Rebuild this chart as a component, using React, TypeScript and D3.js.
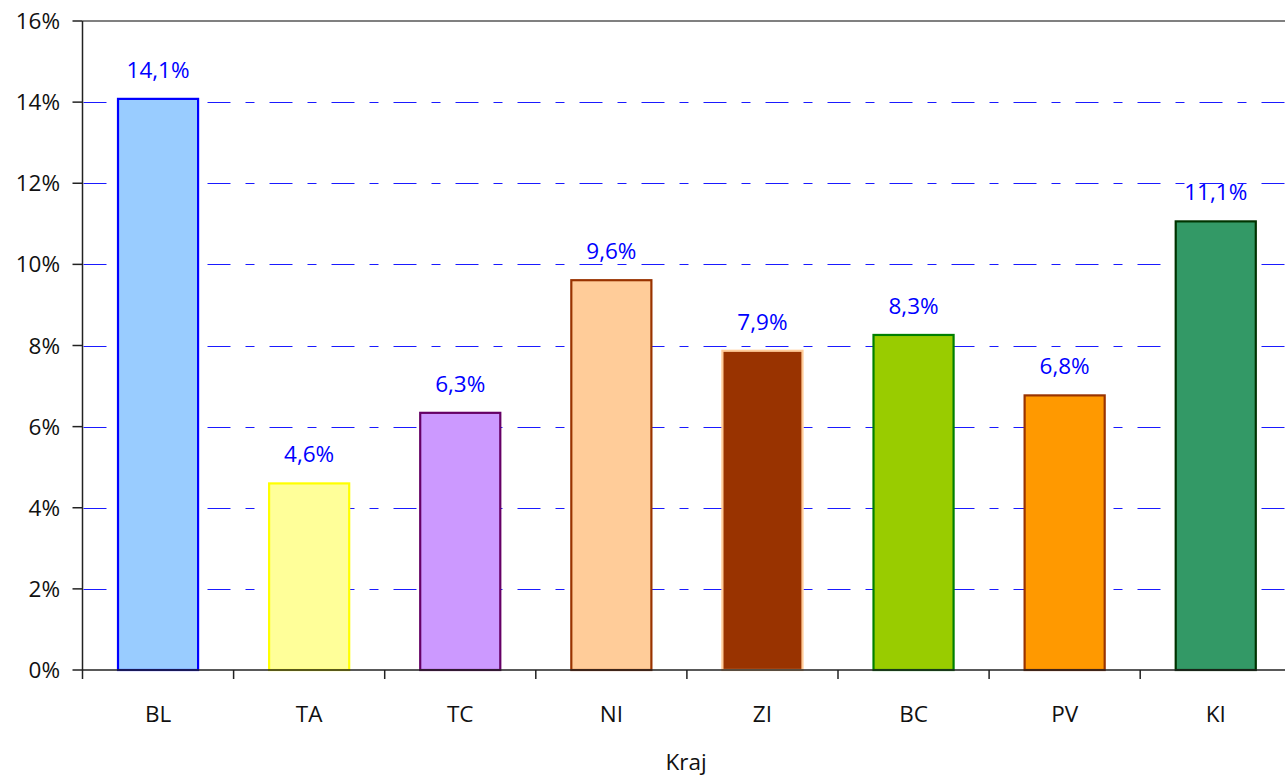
import React, { useRef, useEffect } from 'react';
import * as d3 from 'd3';

// chart data
const categories = ['BL', 'TA', 'TC', 'NI', 'ZI', 'BC', 'PV', 'KI'];
const values = [14.08, 4.6, 6.34, 9.61, 7.87, 8.26, 6.77, 11.06];
const fills = ['#99ccff', '#ffff99', '#cc99ff', '#ffcc99', '#993300', '#99cc00', '#ff9900', '#339966'];
const strokes = ['#0000ff', '#ffff00', '#660066', '#993300', '#ffcc99', '#008000', '#993300', '#003300'];
const yTicks = [0, 2, 4, 6, 8, 10, 12, 14, 16];
const xTitle = 'Kraj';

const FONT = '"Open Sans", "DejaVu Sans", sans-serif';

const App = () => {
    const svgRef = useRef<SVGSVGElement>(null);

    useEffect(() => {
        if (!svgRef.current) return;
        const width = 1285;
        const height = 776;
        const left = 82.5;
        const top = 21;
        const bottom = 670;
        const step = 151.1;
        const right = left + step * categories.length;

        const svg = d3.select(svgRef.current);
        svg.selectAll('*').remove();
        svg.attr('width', width).attr('height', height);

        const x = d3.scaleBand<string>()
            .domain(categories)
            .range([left, right])
            .paddingInner(0.47)
            .paddingOuter(0.235);

        const y = d3.scaleLinear().domain([0, 16]).range([bottom, top]);

        // gridlines
        svg.append('g')
            .selectAll('line')
            .data(yTicks.filter(d => d > 0 && d < 16))
            .enter()
            .append('line')
            .attr('x1', left + 1)
            .attr('x2', right)
            .attr('y1', d => Math.round(y(d)) + 0.5)
            .attr('y2', d => Math.round(y(d)) + 0.5)
            .attr('stroke', '#1a1aff')
            .attr('stroke-width', 1)
            .attr('stroke-dasharray', '23,15,9,15');

        // top border
        svg.append('line')
            .attr('x1', left)
            .attr('x2', width)
            .attr('y1', y(16))
            .attr('y2', y(16))
            .attr('stroke', '#808080')
            .attr('stroke-width', 2);

        // bars
        const bars = svg.append('g')
            .selectAll('g')
            .data(categories.map((c, i) => ({ c, v: values[i], fill: fills[i], stroke: strokes[i] })))
            .enter()
            .append('g');

        bars.append('rect')
            .attr('x', d => x(d.c)!)
            .attr('y', d => y(d.v))
            .attr('width', x.bandwidth())
            .attr('height', d => bottom - y(d.v))
            .attr('fill', d => d.fill)
            .attr('stroke', d => d.stroke)
            .attr('stroke-width', 2.2);

        bars.append('text')
            .attr('x', d => x(d.c)! + x.bandwidth() / 2)
            .attr('y', d => y(d.v) - 21)
            .attr('text-anchor', 'middle')
            .style('font-family', FONT)
            .style('font-size', '22.5px')
            .style('fill', '#0000ff')
            .text(d => d.v.toFixed(1).replace('.', ',') + '%');

        // y axis
        const yAxis = svg.append('g');
        yAxis.append('line')
            .attr('x1', left).attr('x2', left)
            .attr('y1', top).attr('y2', bottom)
            .attr('stroke', '#222').attr('stroke-width', 1.5);
        yAxis.selectAll('line.tick')
            .data(yTicks)
            .enter()
            .append('line')
            .attr('class', 'tick')
            .attr('x1', left - 10).attr('x2', left)
            .attr('y1', d => y(d)).attr('y2', d => y(d))
            .attr('stroke', '#222').attr('stroke-width', 1.5);
        yAxis.selectAll('text')
            .data(yTicks)
            .enter()
            .append('text')
            .attr('x', 60)
            .attr('y', d => y(d))
            .attr('dy', '0.36em')
            .attr('text-anchor', 'end')
            .style('font-family', FONT)
            .style('font-size', '22.5px')
            .style('fill', '#111')
            .text(d => `${d}%`);

        // x axis
        const xAxis = svg.append('g');
        xAxis.append('line')
            .attr('x1', left).attr('x2', width)
            .attr('y1', bottom).attr('y2', bottom)
            .attr('stroke', '#222').attr('stroke-width', 1.5);
        xAxis.selectAll('line.tick')
            .data(d3.range(categories.length + 1))
            .enter()
            .append('line')
            .attr('class', 'tick')
            .attr('x1', i => left + i * step).attr('x2', i => left + i * step)
            .attr('y1', bottom).attr('y2', bottom + 9)
            .attr('stroke', '#222').attr('stroke-width', 1.5);
        xAxis.selectAll('text')
            .data(categories)
            .enter()
            .append('text')
            .attr('x', d => x(d)! + x.bandwidth() / 2)
            .attr('y', 722)
            .attr('text-anchor', 'middle')
            .style('font-family', FONT)
            .style('font-size', '22.5px')
            .style('fill', '#111')
            .text(d => d);

        svg.append('text')
            .attr('x', 686)
            .attr('y', 770)
            .attr('text-anchor', 'middle')
            .style('font-family', FONT)
            .style('font-size', '22.5px')
            .style('fill', '#111')
            .text(xTitle);
    }, []);

    return (
        <svg ref={svgRef} style={{ position: 'absolute', left: 0, top: 0, background: '#fff' }}></svg>
    );
};

export default App;
